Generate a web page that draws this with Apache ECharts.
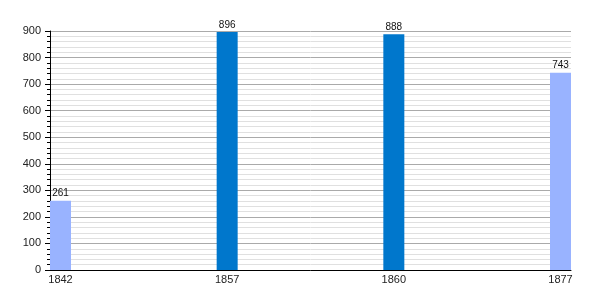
<!DOCTYPE html>
<html><head><meta charset="utf-8">
<script src="https://cdn.jsdelivr.net/npm/echarts@6/dist/echarts.min.js"></script>
<style>html,body{margin:0;padding:0;background:#fff}#c{width:600px;height:300px}</style>
</head><body><div id="c"></div>
<script>
const years = ['1842', '1857', '1860', '1877'];
const population = [261, 896, 888, 743];
const yTicks = [0, 100, 200, 300, 400, 500, 600, 700, 800, 900];
const barColors = ['#99b3ff', '#0077cc', '#0077cc', '#99b3ff'];

const chart = echarts.init(document.getElementById('c'));
const font = 'Liberation Sans, Arial, sans-serif';
chart.setOption({
  animation: false,
  grid: { left: 50, right: 29, top: 31, bottom: 30, containLabel: false },
  xAxis: {
    type: 'value', min: -0.063, max: years.length - 1 + 0.063,
    splitLine: { show: false },
    axisLine: { show: true, onZero: false, lineStyle: { color: '#000', width: 1 } },
    axisTick: { show: false },
    axisLabel: {
      customValues: years.map((_, i) => i),
      formatter: v => years[Math.round(v)],
      color: '#222', fontSize: 11, fontFamily: font, margin: 4
    }
  },
  yAxis: {
    type: 'value', min: yTicks[0], max: yTicks[yTicks.length - 1], interval: 100,
    axisLine: { show: true, onZero: false, lineStyle: { color: '#000', width: 1 } },
    axisTick: { show: true, length: 5, lineStyle: { color: '#000' } },
    minorTick: { show: true, splitNumber: 5, length: 3, lineStyle: { color: '#000' } },
    splitLine: { show: true, lineStyle: { color: '#aaa', width: 1 } },
    minorSplitLine: { show: true, lineStyle: { color: '#e0e0e0', width: 1 } },
    axisLabel: { color: '#222', fontSize: 11, fontFamily: font, margin: 9 }
  },
  series: [{
    type: 'bar', barWidth: 21,
    data: population.map((v, i) => ({ value: [i, v], itemStyle: { color: barColors[i] } })),
    label: { show: true, position: 'top', distance: 2, color: '#111', fontSize: 10, fontFamily: font,
      formatter: p => p.value[1] }
  }]
});
</script></body></html>
